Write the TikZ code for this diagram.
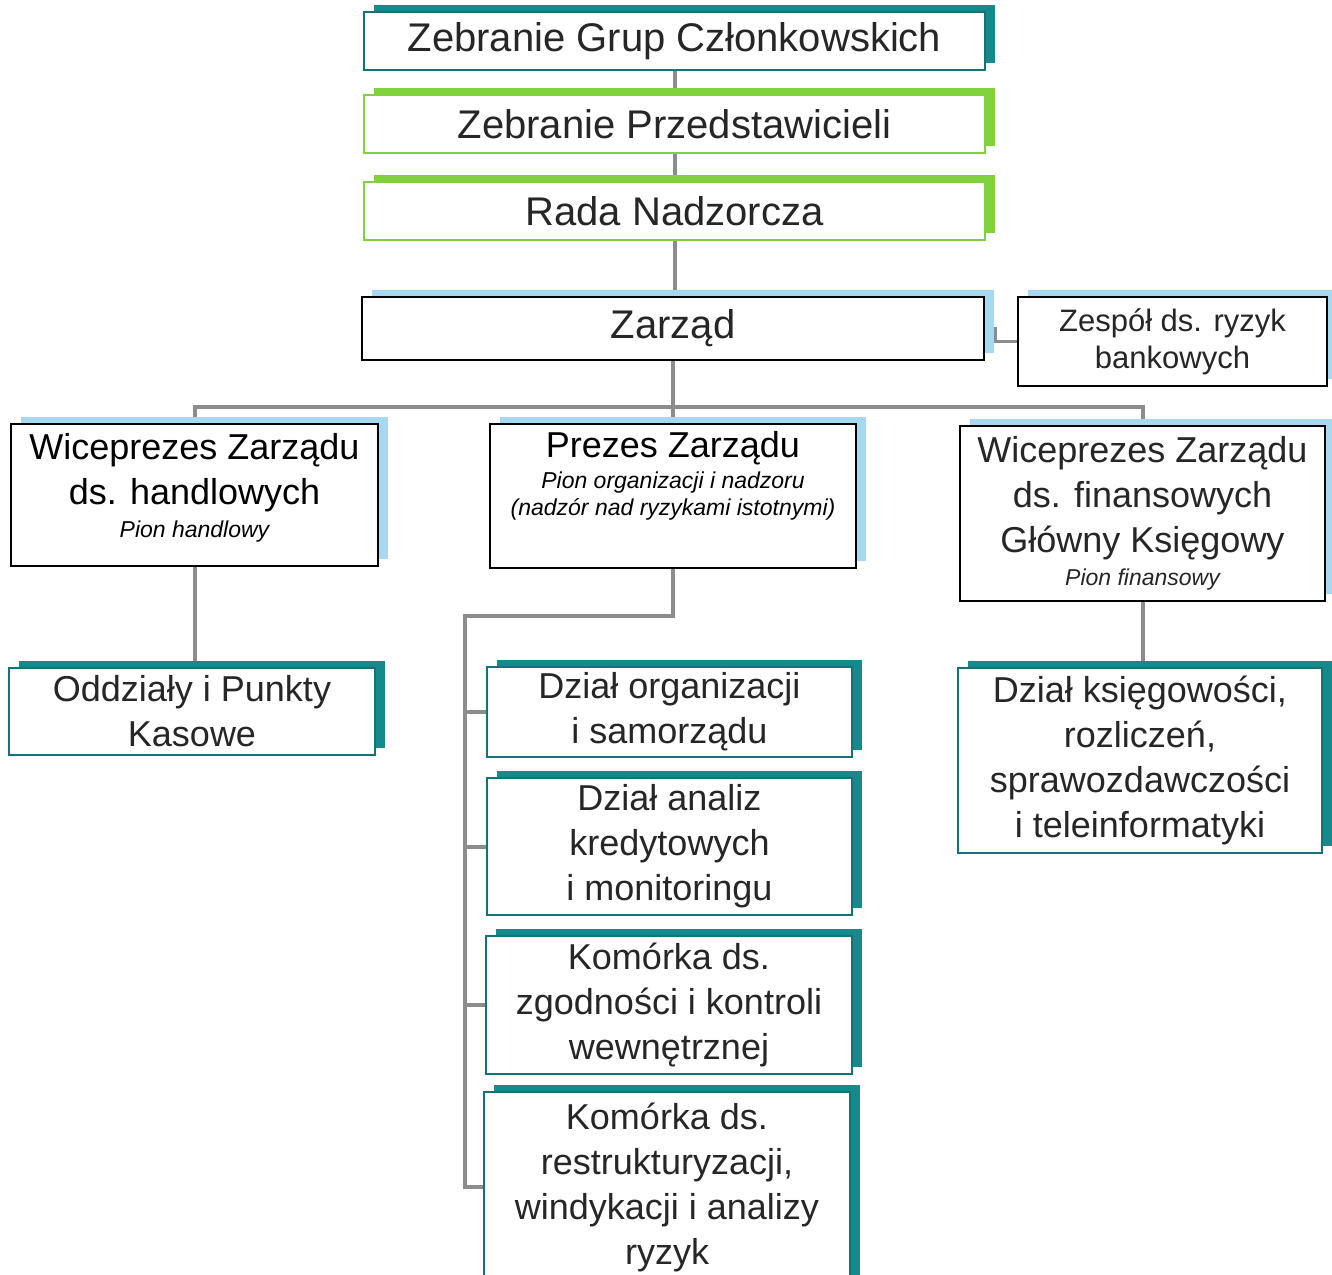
\documentclass[tikz,border=0pt]{standalone}
\usepackage{fontspec}
\setmainfont{Liberation Sans}
\usetikzlibrary{positioning,shadows,backgrounds}
\definecolor{morski}{RGB}{22,137,140}
\definecolor{zielony}{RGB}{128,210,60}
\definecolor{blekit}{RGB}{168,216,240}
\definecolor{szary}{RGB}{140,140,140}
\tikzset{pole/.style={rectangle, draw=#1, fill=white, line width=1.6pt, inner sep=0pt,
        align=center, text=black!85},
    cien/.style={general shadow={fill=#1, draw=none, shadow xshift=10pt, shadow yshift=7pt}},
    pole morskie/.style={pole=morski!85!black, cien=morski},
    pole zielone/.style={pole=zielony, cien=zielony},
    pole blekitne/.style={pole=black, cien=blekit},
    linia/.style={draw=szary, line width=4pt},
    wielki/.style={font=\fontsize{40}{50}\selectfont},
    duzy/.style={font=\fontsize{36}{45}\selectfont},
    sredni/.style={font=\fontsize{31}{37}\selectfont}
}
\newcommand{\pion}[1]{{\fontsize{23}{27}\selectfont\itshape #1}}

\begin{document}
\begin{tikzpicture}[x=1pt, y=-1pt]
        \useasboundingbox (0,0) rectangle (1332,1274);
        \clip (0,0) rectangle (1332,1274);
        \node[pole morskie, wielki, minimum width=621, minimum height=58] (zgc) at (674.5,41) {Zebranie Grup Członkowskich};
        \node[pole zielone, wielki, minimum width=621, minimum height=58] (zp) at (674.5,124) {Zebranie Przedstawicieli};
        \node[pole zielone, wielki, minimum width=621, minimum height=58] (rn) at (674.5,211) {Rada Nadzorcza};
        \node[pole blekitne, wielki, minimum width=622, minimum height=63] (zarzad) at (673,328.5) {Zarząd};
        \node[pole blekitne, sredni, minimum width=309, minimum height=89] (zespol) at (1172.5,341.5) {Zespół ds. ryzyk\\bankowych};
        \node[pole blekitne, minimum width=367, minimum height=142] (wiceH) at (194.5,495) {};
        \node[duzy, align=center, inner sep=0pt, below=10pt of wiceH.north] (wiceH tekst) {Wiceprezes Zarządu\\ds. handlowych\\[-12pt]\pion{Pion handlowy}};
        \node[pole blekitne, minimum width=366, minimum height=144] (prezes) at (673,496) {};
        \node[duzy, align=center, inner sep=0pt, below=8pt of prezes.north] (prezes tekst) {Prezes Zarządu\\[-14pt]\pion{Pion organizacji i nadzoru}\\[-18pt]\pion{(nadzór nad ryzykami istotnymi)}};
        \node[pole blekitne, duzy, minimum width=365, minimum height=175] (wiceF) at (1142.5,513.5) {Wiceprezes Zarządu\\ds. finansowych\\Główny Księgowy\\[-12pt]\pion{Pion finansowy}};
        \node[pole morskie, duzy, minimum width=366, minimum height=87] (oddzialy) at (192,711.5) {Oddziały i Punkty\\Kasowe};
        \node[pole morskie, duzy, minimum width=365, minimum height=90] (dzOrg) at (669.5,712) {Dział organizacji\\i samorządu};
        \node[pole morskie, duzy, minimum width=365, minimum height=137] (dzAnaliz) at (669.5,846.5) {Dział analiz\\kredytowych\\i monitoringu};
        \node[pole morskie, duzy, minimum width=366, minimum height=138] (kZgod) at (669,1005) {Komórka ds.\\zgodności i kontroli\\wewnętrznej};
        \node[pole morskie, duzy, minimum width=366, minimum height=190] (kRestr) at (667,1187) {Komórka ds.\\restrukturyzacji,\\windykacji i analizy\\ryzyk};
        \node[pole morskie, duzy, minimum width=364, minimum height=185] (dzKs) at (1140,760.5) {Dział księgowości,\\rozliczeń,\\sprawozdawczości\\i teleinformatyki};
        \coordinate (rozgalezienie) at (465,616);
        \begin{scope}[on background layer]
            \draw[linia] (zgc) -- (zp);
            \draw[linia] (zp) -- (rn);
            \draw[linia] (rn.south) -- (rn.south |- zarzad.north);
            \draw[linia, line width=3pt] (zarzad.east) -- ++(11,0) |- (zespol.west);
            \draw[linia] (zarzad) -- (prezes);
            \draw[linia] (wiceH.north) -- ++(0,-16) -| (wiceF.north);
            \draw[linia] (wiceH.south) -- (wiceH.south |- oddzialy.north);
            \draw[linia] (prezes.south) |- (rozgalezienie) |- (kRestr.west);
            \foreach \dzial in {dzOrg,dzAnaliz,kZgod}
                \draw[linia] (rozgalezienie |- \dzial.west) -- (\dzial.west);
            \draw[linia] (wiceF.south) -- (wiceF.south |- dzKs.north);
        \end{scope}
\end{tikzpicture}
\end{document}
